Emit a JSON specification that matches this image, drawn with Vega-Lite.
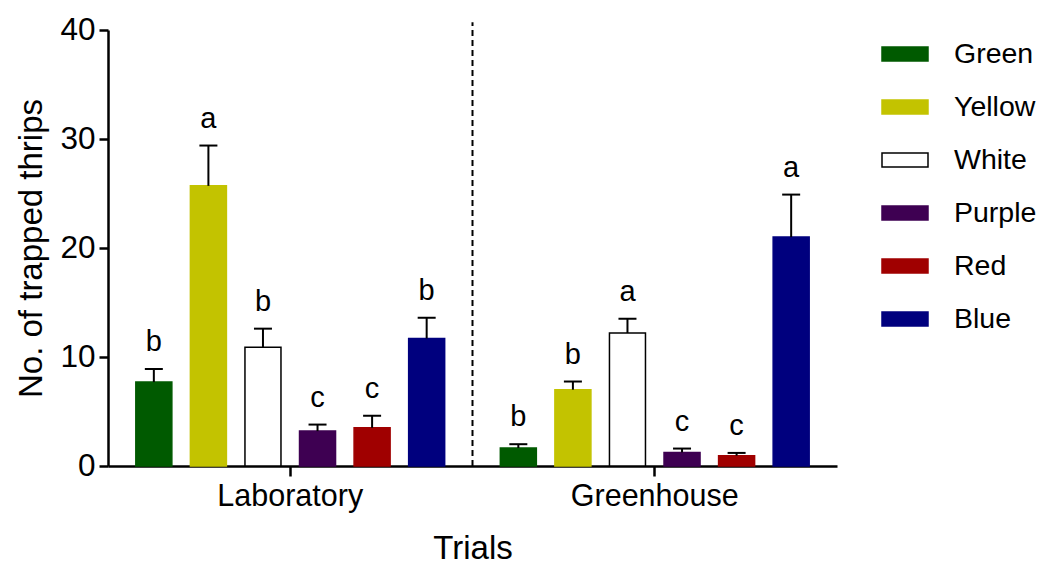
{
  "$schema": "https://vega.github.io/schema/vega-lite/v6.json",
  "width": 729,
  "height": 436,
  "autosize": {"type": "none"},
  "padding": {"left": 108, "top": 30, "right": 203, "bottom": 99},
  "background": "white",
  "config": {
    "font": "Liberation Sans",
    "view": {"stroke": null},
    "axis": {"labelFont": "Liberation Sans", "titleFont": "Liberation Sans", "labelColor": "#000", "titleColor": "#000", "titleFontWeight": "normal", "domainColor": "#000", "tickColor": "#000", "domainWidth": 2.5, "tickWidth": 2.5, "grid": false},
    "legend": {"labelFont": "Liberation Sans", "labelColor": "#000"}
  },
  "datasets": {
    "bars": [
      {"Trial": "Laboratory", "Color": "Green", "mean": 7.7, "upper": 8.9, "letter": "b"},
      {"Trial": "Laboratory", "Color": "Yellow", "mean": 25.7, "upper": 29.4, "letter": "a"},
      {"Trial": "Laboratory", "Color": "White", "mean": 10.9, "upper": 12.6, "letter": "b"},
      {"Trial": "Laboratory", "Color": "Purple", "mean": 3.2, "upper": 3.8, "letter": "c"},
      {"Trial": "Laboratory", "Color": "Red", "mean": 3.5, "upper": 4.6, "letter": "c"},
      {"Trial": "Laboratory", "Color": "Blue", "mean": 11.7, "upper": 13.6, "letter": "b"},
      {"Trial": "Greenhouse", "Color": "Green", "mean": 1.65, "upper": 2.0, "letter": "b"},
      {"Trial": "Greenhouse", "Color": "Yellow", "mean": 7.0, "upper": 7.75, "letter": "b"},
      {"Trial": "Greenhouse", "Color": "White", "mean": 12.2, "upper": 13.5, "letter": "a"},
      {"Trial": "Greenhouse", "Color": "Purple", "mean": 1.25, "upper": 1.6, "letter": "c"},
      {"Trial": "Greenhouse", "Color": "Red", "mean": 0.95, "upper": 1.2, "letter": "c"},
      {"Trial": "Greenhouse", "Color": "Blue", "mean": 21.0, "upper": 24.9, "letter": "a"}
    ],
    "divider": [{"Trial": "Greenhouse"}]
  },
  "layer": [
    {
      "data": {"name": "bars"},
      "mark": {"type": "bar", "strokeWidth": 1.5},
      "encoding": {
        "x": {"field": "Trial", "type": "nominal", "sort": ["Laboratory", "Greenhouse"], "scale": {"paddingInner": 0, "paddingOuter": 0},
          "axis": {"title": "Trials", "labelAngle": 0, "labelFontSize": 30.5, "titleFontSize": 33, "tickSize": 10, "labelPadding": 5, "titlePadding": 21}},
        "xOffset": {"field": "Color", "type": "nominal", "sort": ["Green", "Yellow", "White", "Purple", "Red", "Blue"], "scale": {"paddingInner": 0.34, "paddingOuter": 0.51}},
        "y": {"field": "mean", "type": "quantitative", "scale": {"domain": [0, 40], "nice": false},
          "axis": {"title": "No. of trapped thrips", "values": [0, 10, 20, 30, 40], "labelFontSize": 31.5, "titleFontSize": 33, "tickSize": 9, "labelPadding": 4, "titlePadding": 11}},
        "fill": {"field": "Color", "type": "nominal",
          "scale": {"domain": ["Green", "Yellow", "White", "Purple", "Red", "Blue"], "range": ["#005a00", "#c3c300", "#ffffff", "#3e0052", "#a00000", "#00007e"]},
          "legend": {"title": null, "orient": "right", "offset": 44, "labelFontSize": 28.5, "symbolType": "M-1,-0.3H1V0.3H-1Z", "symbolSize": 2116, "symbolStrokeWidth": 1.5, "rowPadding": 14, "labelOffset": 25, "padding": 0}},
        "stroke": {"field": "Color", "type": "nominal",
          "scale": {"domain": ["Green", "Yellow", "White", "Purple", "Red", "Blue"], "range": ["#005a00", "#c3c300", "#000000", "#3e0052", "#a00000", "#00007e"]},
          "legend": {"title": null}}
      }
    },
    {
      "data": {"name": "bars"},
      "mark": {"type": "rule", "color": "#000", "strokeWidth": 2},
      "encoding": {
        "x": {"field": "Trial", "type": "nominal", "sort": ["Laboratory", "Greenhouse"]},
        "xOffset": {"field": "Color", "type": "nominal", "sort": ["Green", "Yellow", "White", "Purple", "Red", "Blue"]},
        "y": {"field": "mean", "type": "quantitative"},
        "y2": {"field": "upper"}
      }
    },
    {
      "data": {"name": "bars"},
      "mark": {"type": "tick", "color": "#000", "thickness": 2, "size": 18, "opacity": 1},
      "encoding": {
        "x": {"field": "Trial", "type": "nominal", "sort": ["Laboratory", "Greenhouse"]},
        "xOffset": {"field": "Color", "type": "nominal", "sort": ["Green", "Yellow", "White", "Purple", "Red", "Blue"]},
        "y": {"field": "upper", "type": "quantitative"}
      }
    },
    {
      "data": {"name": "bars"},
      "mark": {"type": "text", "fontSize": 29, "baseline": "bottom", "dy": -12, "color": "#000"},
      "encoding": {
        "x": {"field": "Trial", "type": "nominal", "sort": ["Laboratory", "Greenhouse"]},
        "xOffset": {"field": "Color", "type": "nominal", "sort": ["Green", "Yellow", "White", "Purple", "Red", "Blue"]},
        "y": {"field": "upper", "type": "quantitative"},
        "text": {"field": "letter"}
      }
    },
    {
      "data": {"name": "divider"},
      "mark": {"type": "rule", "color": "#000", "strokeWidth": 2, "strokeDash": [6, 4]},
      "encoding": {
        "x": {"field": "Trial", "type": "nominal", "sort": ["Laboratory", "Greenhouse"], "bandPosition": 0},
        "y": {"datum": 0},
        "y2": {"datum": 40.7}
      }
    }
  ]
}
